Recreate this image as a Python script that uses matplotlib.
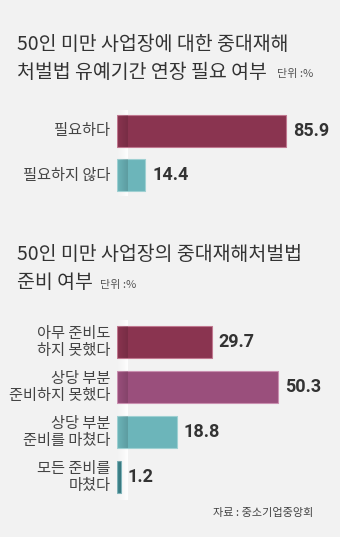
import matplotlib
matplotlib.use('Agg')
import matplotlib.pyplot as plt
import numpy as np
from matplotlib.colors import LinearSegmentedColormap

KR = ['Noto Sans CJK KR', 'DejaVu Sans']
BG = '#f2f2f2'
TXT = '#333333'

# ── Data ───────────────────────────────────────────────────────────────────────
need_labels = ['필요하다', '필요하지 않다']
need_values = [85.9, 14.4]
need_colors = ['#8a3450', '#6cb5ba']
need_edges = ['#c07890', '#9fd0d2']

prep_labels = ['아무 준비도\n하지 못했다', '상당 부분\n준비하지 못했다',
               '상당 부분\n준비를 마쳤다', '모든 준비를\n마쳤다']
prep_values = [29.7, 50.3, 18.8, 1.2]
prep_colors = ['#8a3450', '#9a4f7c', '#6cb5ba', '#3f8890']
prep_edges = ['#c07890', '#c98fb0', '#9fd0d2', '#7fb3b9']

W, H = 340, 537
fig = plt.figure(figsize=(W / 100, H / 100), dpi=100, facecolor=BG)


def px_axes(left, top, width, height):
    return fig.add_axes([left / W, 1 - (top + height) / H, width / W, height / H])


def bar_panel(ax, labels, values, colors, edges, xmax, ylim, height):
    ax.set_facecolor('none')
    y = np.arange(len(values))

    # soft vertical shade along the bars' baseline
    grad = np.linspace(1, 0, 64).reshape(1, -1)
    light = LinearSegmentedColormap.from_list('l', [(1, 1, 1, 0.9), (1, 1, 1, 0)])
    dark = LinearSegmentedColormap.from_list('d', [(0, 0, 0, 0.14), (0, 0, 0, 0)])
    x1 = xmax * 0.055
    ax.imshow(grad, cmap=light, aspect='auto', extent=[0, x1, ylim[0], ylim[1]],
              zorder=1, interpolation='bicubic')

    bars = ax.barh(y, values, height=height, color=colors, edgecolor=edges,
                   linewidth=0.8, zorder=2)
    for b in bars:
        y0 = b.get_y()
        ax.imshow(grad, cmap=dark, aspect='auto',
                  extent=[0, min(x1, b.get_width()), y0 + b.get_height(), y0],
                  zorder=3, interpolation='bicubic')
    ax.set_xlim(0, xmax)
    ax.set_ylim(*ylim)

    for yi, v in zip(y, values):
        ax.text(v + xmax * 0.035, yi, f'{v:.1f}', va='center', ha='left',
                fontsize=13, fontweight='bold', color=TXT, family=['Roboto'])
    for yi, lab in zip(y, labels):
        ax.text(-xmax * 0.035, yi, lab, va='center', ha='right', fontsize=11,
                color='#444444', family=KR, linespacing=1.05)
    ax.axis('off')


# ── Panel 1 ────────────────────────────────────────────────────────────────────
fig.text(17 / W, 1 - 44 / H, '50인 미만 사업장에 대한 중대재해', fontsize=14,
         color=TXT, family=KR, va='center', ha='left')
fig.text(17 / W, 1 - 72 / H, '처벌법 유예기간 연장 필요 여부', fontsize=14,
         color=TXT, family=KR, va='center', ha='left')
fig.text(277 / W, 1 - 74 / H, '단위 :%', fontsize=8, color='#555555',
         family=KR, va='center', ha='left')

ax1 = px_axes(117, 110, 196.7, 86)
bar_panel(ax1, need_labels, need_values, need_colors, need_edges,
          100, (1.477, -0.477), 0.727)

# ── Panel 2 ────────────────────────────────────────────────────────────────────
fig.text(17 / W, 1 - 255 / H, '50인 미만 사업장의 중대재해처벌법', fontsize=14,
         color=TXT, family=KR, va='center', ha='left')
fig.text(17 / W, 1 - 283 / H, '준비 여부', fontsize=14,
         color=TXT, family=KR, va='center', ha='left')
fig.text(100 / W, 1 - 285 / H, '단위 :%', fontsize=8, color='#555555',
         family=KR, va='center', ha='left')

ax2 = px_axes(117, 320, 192, 180)
bar_panel(ax2, prep_labels, prep_values, prep_colors, prep_edges,
          60, (3.511, -0.489), 0.71)

fig.text(313 / W, 1 - 513 / H, '자료 : 중소기업중앙회', fontsize=8,
         color='#444444', family=KR, va='center', ha='right')

fig.savefig('out.png', dpi=100, facecolor=BG)
